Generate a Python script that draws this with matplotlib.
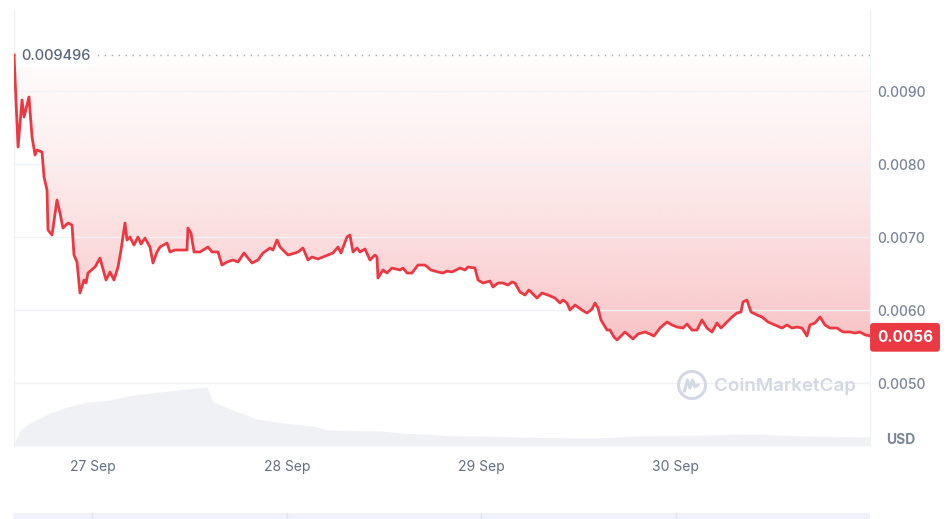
import numpy as np
import matplotlib
matplotlib.use("Agg")
import matplotlib.pyplot as plt
from matplotlib.patches import Circle

plt.rcParams['font.family'] = ['Inter', 'DejaVu Sans']

# hours since 26 Sep 00:00
hours = [14.24, 14.74, 15.23, 15.48, 16.09, 16.47, 16.84, 17.08, 17.70, 17.95,
         18.32, 18.44, 18.94, 19.06, 19.55, 19.92, 20.29, 20.91, 21.41, 21.65,
         22.02, 22.39, 22.89, 23.14, 23.38, 24.25, 24.86, 25.61, 26.10, 26.59,
         27.09, 27.46, 27.95, 28.20, 28.57, 29.06, 29.56, 29.93, 30.42, 31.04,
         31.41, 31.91, 32.28, 33.14, 33.51, 34.13, 34.99, 35.61, 35.73, 36.10,
         36.48, 37.22, 38.20, 38.70, 39.44, 39.93, 40.55, 41.29, 41.91, 42.65,
         43.64, 44.38, 45.00, 45.86, 46.23, 46.73, 47.10, 48.09, 48.95, 49.32,
         49.94, 50.56, 51.05, 51.79, 53.03, 53.64, 54.26, 54.63, 55.37, 55.74,
         56.12, 56.61, 56.98, 57.60, 58.21, 58.83, 59.08, 59.20, 59.82, 60.31,
         60.93, 61.92, 62.29, 62.79, 63.40, 64.14, 65.01, 65.75, 66.61, 67.23,
         67.73, 68.34, 69.33, 69.95, 70.32, 71.18, 71.56, 72.17, 73.04, 73.41,
         74.03, 74.64, 75.26, 75.75, 76.12, 76.74, 77.36, 77.85, 78.84, 79.46,
         80.20, 81.07, 81.68, 82.06, 82.55, 82.92, 83.54, 84.40, 85.02, 85.64,
         86.01, 86.38, 86.75, 87.49, 87.86, 88.36, 88.73, 89.71, 90.70, 91.32,
         92.18, 92.80, 93.29, 94.04, 94.90, 95.52, 96.14, 96.88, 97.37, 97.99,
         98.61, 99.22, 99.84, 100.46, 101.08, 101.57, 102.31, 102.93, 103.55, 104.04,
         104.29, 104.78, 105.28, 106.02, 106.64, 107.38, 108.24, 109.11, 109.72, 110.34,
         110.96, 111.58, 112.19, 112.56, 113.18, 113.80, 114.42, 115.03, 115.90, 116.64,
         117.50, 118.12, 118.74, 119.36, 119.98]

price = [0.009496, 0.008233, 0.008877, 0.008644, 0.008918, 0.008370, 0.008123, 0.008192, 0.008164, 0.007822,
         0.007644, 0.007096, 0.007027, 0.007123, 0.007507, 0.007329, 0.007123, 0.007192, 0.007164, 0.006753,
         0.006658, 0.006233, 0.006411, 0.006370, 0.006507, 0.006589, 0.006712, 0.006411, 0.006521, 0.006411,
         0.006589, 0.006822, 0.007192, 0.006959, 0.007000, 0.006890, 0.007000, 0.006904, 0.006986, 0.006863,
         0.006644, 0.006795, 0.006863, 0.006918, 0.006795, 0.006822, 0.006822, 0.006822, 0.007123, 0.007055,
         0.006795, 0.006795, 0.006863, 0.006795, 0.006795, 0.006616, 0.006658, 0.006685, 0.006658, 0.006781,
         0.006644, 0.006685, 0.006781, 0.006849, 0.006822, 0.006959, 0.006863, 0.006753, 0.006781, 0.006795,
         0.006849, 0.006685, 0.006726, 0.006699, 0.006753, 0.006781, 0.006863, 0.006781, 0.007000, 0.007027,
         0.006795, 0.006849, 0.006795, 0.006836, 0.006685, 0.006753, 0.006726, 0.006438, 0.006548, 0.006507,
         0.006575, 0.006548, 0.006575, 0.006507, 0.006507, 0.006616, 0.006616, 0.006548, 0.006521, 0.006507,
         0.006534, 0.006521, 0.006575, 0.006548, 0.006589, 0.006575, 0.006411, 0.006370, 0.006397, 0.006315,
         0.006370, 0.006370, 0.006342, 0.006384, 0.006370, 0.006247, 0.006205, 0.006274, 0.006164, 0.006233,
         0.006205, 0.006164, 0.006096, 0.006137, 0.006096, 0.006000, 0.006068, 0.006000, 0.005959, 0.006014,
         0.006096, 0.006027, 0.005863, 0.005726, 0.005726, 0.005630, 0.005589, 0.005699, 0.005603, 0.005671,
         0.005699, 0.005671, 0.005644, 0.005753, 0.005836, 0.005795, 0.005767, 0.005753, 0.005808, 0.005726,
         0.005726, 0.005863, 0.005753, 0.005699, 0.005822, 0.005753, 0.005836, 0.005904, 0.005959, 0.005973,
         0.006110, 0.006137, 0.005973, 0.005932, 0.005904, 0.005836, 0.005795, 0.005753, 0.005795, 0.005753,
         0.005767, 0.005753, 0.005644, 0.005795, 0.005822, 0.005904, 0.005795, 0.005753, 0.005753, 0.005699,
         0.005699, 0.005685, 0.005699, 0.005660, 0.005645]

# volume (arbitrary units)
vol_hours = [14.24, 14.98, 16.22, 18.69, 20.79, 23.26, 26.10, 28.94, 32.28, 35.61,
             38.08, 38.82, 41.29, 44.26, 47.47, 51.17, 52.90, 59.82, 61.92, 69.33,
             71.80, 79.21, 85.76, 91.19, 99.35, 105.52, 111.70, 119.98]
volume = [0.2, 1.6, 2.3, 3.3, 3.9, 4.4, 4.6, 5.1, 5.4, 5.7,
          5.9, 4.4, 3.6, 2.7, 2.3, 2.0, 1.6, 1.5, 1.3, 1.0,
          1.0, 0.85, 0.8, 1.0, 1.1, 1.2, 1.0, 0.9]

tick_hours = [24, 48, 72, 96]
tick_labels = ['27 Sep', '28 Sep', '29 Sep', '30 Sep']
price_ticks = [0.0050, 0.0060, 0.0070, 0.0080, 0.0090]

RED = '#ea3943'
GRID = '#eff2f5'
LABEL = '#7a8599'

W, H = 950, 519
fig = plt.figure(figsize=(W / 100, H / 100), dpi=100)
rect = [14 / W, (H - 446) / H, (870 - 14) / W, (446 - 10) / H]

ax_v = fig.add_axes(rect)
ax = ax_v.twinx()
ax.set_zorder(ax_v.get_zorder() + 1)
ax.patch.set_visible(False)

# volume
ax_v.fill_between(vol_hours, volume, 0, color='#eff1f5', lw=0)
ax_v.set_ylim(0, 43.6)
ax_v.set_xlim(hours[0], hours[-1])
ax_v.set_yticks([])
ax_v.set_xticks(tick_hours)
ax_v.set_xticklabels(tick_labels, color='#616e85', fontsize=10)
ax_v.tick_params(axis='x', length=0, pad=10)
for s in ['top', 'bottom', 'right']:
    ax_v.spines[s].set_visible(False)
ax_v.spines['left'].set_color(GRID)

# price
ax.set_xlim(hours[0], hours[-1])
ax.set_ylim(0.004137, 0.01011)
ax.yaxis.tick_right()
ax.set_yticks(price_ticks)
ax.set_yticklabels([f'{v:.4f}' for v in price_ticks], color=LABEL, fontsize=10,
                   fontweight='medium')
ax.tick_params(axis='y', length=0, pad=5)
ax.grid(axis='y', color=GRID, lw=1)
for s in ['top', 'bottom', 'left']:
    ax.spines[s].set_visible(False)
ax.spines['right'].set_color(GRID)

first = price[0]
x = np.array(hours)
y = np.array(price)

# gradient fill between the line and the opening price (deeper towards the bottom)
poly = ax.fill_between(x, y, first, color='none', lw=0)
n = 256
f = np.linspace(1, 0, n)  # row 0 = bottom (origin lower)
alpha = 0.02 + 0.28 * f ** 1.4
grad = np.zeros((n, 1, 4))
grad[..., 0] = 234 / 255
grad[..., 1] = 57 / 255
grad[..., 2] = 67 / 255
grad[:, 0, 3] = alpha
im = ax.imshow(grad, extent=[x[0], x[-1], y.min(), first], origin='lower',
               aspect='auto', zorder=1)
im.set_clip_path(poly.get_paths()[0], transform=ax.transData)
ax.set_xlim(hours[0], hours[-1])
ax.set_ylim(0.004137, 0.01011)

ax.plot(x, y, color=RED, lw=2.0, zorder=3, solid_joinstyle='round')

# opening price reference
ax.axhline(first, color='#a3abb8', lw=1, ls=(0, (1, 4)), zorder=2)
ax.annotate(f'{first:.6f}', xy=(0, first), xycoords=('axes fraction', 'data'),
            xytext=(5, -1), textcoords='offset points', va='center', ha='left',
            fontsize=10.5, fontweight='medium', color='#58667e', zorder=4,
            bbox=dict(boxstyle='square,pad=0.25', fc='white', ec='none'))

# last price tag
ax.annotate('0.0056', xy=(1, y[-1]), xycoords=('axes fraction', 'data'),
            xytext=(5, -1), textcoords='offset points', va='center', ha='left',
            fontsize=11, fontweight='bold', color='white', zorder=5,
            annotation_clip=False,
            bbox=dict(boxstyle='round,pad=0.45,rounding_size=0.2', fc=RED, ec='none'))

fig.text(886 / W, 1 - 440 / H, 'USD', color=LABEL, fontsize=10,
         fontweight='bold', va='center', ha='left')

# watermark
wm = '#d3d9e4'
fig.text(714 / W, 1 - 386 / H, 'CoinMarketCap', color=wm, fontsize=13.5,
         fontweight='semibold', va='center', ha='left')
cx, cy = 6.92, (H - 385) / 100
fig.patches.append(Circle((cx, cy), 0.135, transform=fig.dpi_scale_trans,
                          fill=False, ec=wm, lw=2.2))
wave_x = cx + np.array([-0.075, -0.045, -0.02, 0.005, 0.03, 0.06])
wave_y = cy + np.array([-0.06, 0.05, -0.03, 0.05, -0.02, 0.0])
fig.lines.append(plt.Line2D(wave_x, wave_y, transform=fig.dpi_scale_trans,
                            color=wm, lw=2.2, solid_joinstyle='round'))

# navigator strip at the bottom
ax_n = fig.add_axes([13 / W, 0, (870 - 13) / W, 6 / H])
ax_n.set_xlim(hours[0], hours[-1])
ax_n.set_facecolor('#eff2fb')
for t in tick_hours:
    ax_n.axvline(t, color='#dfe4ef', lw=1)
ax_n.set_xticks([])
ax_n.set_yticks([])
for s in ax_n.spines.values():
    s.set_visible(False)

fig.savefig('out.png', dpi=100)
